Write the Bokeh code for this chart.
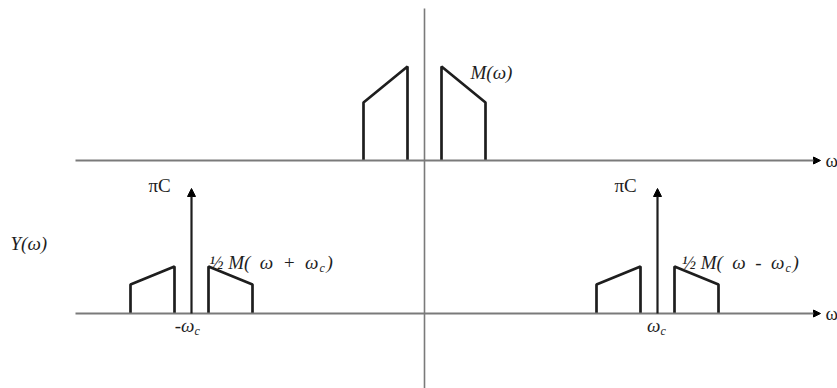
from bokeh.plotting import figure
from bokeh.models import Range1d, Arrow, NormalHead
from bokeh.core.properties import value
from bokeh.embed import file_html
from bokeh.resources import INLINE

# Message spectrum M(w): band edges (inner, outer) and amplitudes at those edges
omega_inner = 17
omega_outer = 61
m_peak = 94       # amplitude at the inner band edge
m_edge = 58       # amplitude at the outer band edge

# Carrier frequency and impulse strength (pi*C)
omega_c = 233
pi_c = 125

# Vertical offset of the upper plot (M) above the lower plot (Y)
upper_offset = 153

SERIF = value("Liberation Serif")
INK = "#1e1e1e"
AXIS = "#7a7a7a"
FS = "19px"
SUB = "12px"
SP = "\u00a0\u00a0"  # widened spacing inside the shifted-spectrum labels

p = figure(width=837, height=388, x_range=Range1d(-424, 413), y_range=Range1d(-75, 313),
           output_backend="svg", toolbar_location=None, x_axis_type=None, y_axis_type=None,
           min_border=0, outline_line_color=None, background_fill_color="white")
p.grid.visible = False


def label(x, y, s, size=FS, italic=True, align="left"):
    p.text(x=[x], y=[y], text=[s], text_font=SERIF, text_font_size=size,
           text_font_style="italic" if italic else "normal", text_color=INK,
           text_baseline="middle", text_align=align)


def band(center, scale, base):
    """Return xs/ys for the two trapezoid halves of a spectrum centred on `center`."""
    right_x = [center + omega_inner, center + omega_inner, center + omega_outer, center + omega_outer]
    left_x = [center - omega_inner, center - omega_inner, center - omega_outer, center - omega_outer]
    ys = [base, base + m_peak * scale, base + m_edge * scale, base]
    return [left_x, right_x], [ys, ys]


# Axes: horizontal frequency axes with arrowheads, shared vertical axis
for base in (0, upper_offset):
    p.add_layout(Arrow(end=NormalHead(size=7, fill_color="black", line_color="black"),
                       x_start=-349, y_start=base, x_end=396, y_end=base,
                       line_color=AXIS, line_width=2))
    label(401, base, "ω", italic=False)
p.segment(x0=[0], y0=[-75], x1=[0], y1=[305], line_color=AXIS, line_width=1.6)

# Upper plot: M(w)
xs, ys = band(0, 1.0, upper_offset)
p.multi_line(xs=xs, ys=ys, line_color=INK, line_width=2.7)
label(omega_outer - 15, upper_offset + m_peak - 6, "M(ω)")

# Lower plot: Y(w) = pi*C carrier impulses plus half-amplitude shifted copies of M
for sign in (-1, 1):
    c = sign * omega_c
    xs, ys = band(c, 0.5, 0)
    p.multi_line(xs=xs, ys=ys, line_color=INK, line_width=2.7)
    p.add_layout(Arrow(end=NormalHead(size=8, fill_color="black", line_color="black"),
                       x_start=c, y_start=0, x_end=c, y_end=pi_c,
                       line_color=INK, line_width=2.2))
    label(c - 43, pi_c + 3, "πC", italic=False)

    sym = "+" if sign < 0 else "-"
    y_lbl = m_peak * 0.5 + 4
    x_end = c + 127
    label(x_end, y_lbl, f"½ M({SP}ω{SP}{sym}{SP}ω", align="right")
    label(x_end + 1, y_lbl - 5, "c", size=SUB)
    label(x_end + 8, y_lbl, ")")

    # frequency tick label under the carrier
    label(c + 3, -12, "-ω" if sign < 0 else "ω", align="right")
    label(c + 3, -17, "c", size=SUB)

label(-414, 70, "Y(ω)")

open("out.html", "w").write(file_html(p, INLINE))
